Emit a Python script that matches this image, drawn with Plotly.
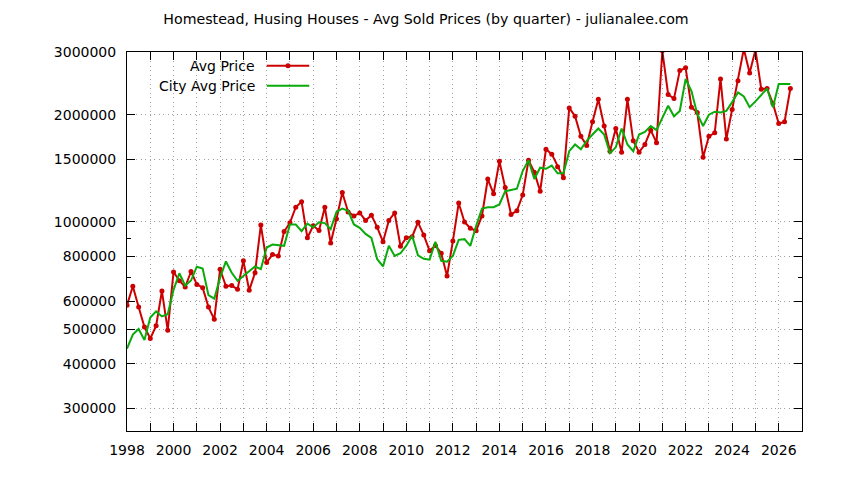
import math
import plotly.graph_objects as go

TITLE = "Homestead, Husing Houses - Avg Sold Prices (by quarter) - julianalee.com"
FIRST_YEAR = 1998

# quarterly values, 1998 Q1 .. 2026 Q3, one row per year
avg_price = [
    584000, 660000, 577000, 507000,
    471000, 511000, 640000, 497000,
    724000, 684000, 657000, 726000,
    668000, 654000, 577000, 533000,
    737000, 660000, 663000, 647000,
    778000, 643000, 720000, 980000,
    770000, 810000, 803000, 940000,
    995000, 1100000, 1140000, 903000,
    976000, 947000, 1100000, 873000,
    1020000, 1210000, 1067000, 1040000,
    1060000, 1010000, 1045000, 966000,
    880000, 1010000, 1060000, 855000,
    903000, 909000, 998000, 919000,
    830000, 859000, 817000, 705000,
    884000, 1130000, 1000000, 960000,
    945000, 1040000, 1320000, 1200000,
    1480000, 1250000, 1050000, 1075000,
    1190000, 1490000, 1380000, 1220000,
    1600000, 1550000, 1430000, 1330000,
    2090000, 1980000, 1740000, 1640000,
    1910000, 2210000, 1860000, 1580000,
    1830000, 1570000, 2210000, 1690000,
    1570000, 1650000, 1810000, 1670000,
    3020000, 2280000, 2220000, 2660000,
    2710000, 2100000, 2030000, 1520000,
    1740000, 1780000, 2520000, 1710000,
    2070000, 2490000, 3060000, 2620000,
    3040000, 2360000, 2370000, 2150000,
    1890000, 1910000, 2370000,
]

city_avg_price = [
    441000, 483000, 501000, 466000,
    539000, 561000, 543000, 551000,
    645000, 718000, 663000, 685000,
    749000, 740000, 623000, 609000,
    698000, 775000, 720000, 684000,
    705000, 727000, 750000, 737000,
    848000, 864000, 860000, 857000,
    984000, 984000, 943000, 990000,
    966000, 998000, 993000, 955000,
    1067000, 1090000, 1075000, 984000,
    963000, 926000, 902000, 786000,
    750000, 858000, 803000, 817000,
    858000, 915000, 806000, 788000,
    784000, 880000, 778000, 774000,
    803000, 891000, 895000, 857000,
    976000, 1090000, 1100000, 1100000,
    1120000, 1220000, 1230000, 1240000,
    1390000, 1490000, 1320000, 1420000,
    1410000, 1440000, 1370000, 1370000,
    1580000, 1650000, 1600000, 1690000,
    1760000, 1830000, 1760000, 1560000,
    1620000, 1830000, 1650000, 1580000,
    1760000, 1790000, 1860000, 1810000,
    1960000, 2120000, 1980000, 2050000,
    2520000, 2330000, 2010000, 1860000,
    2000000, 2040000, 2030000, 2050000,
    2170000, 2310000, 2250000, 2100000,
    2180000, 2270000, 2370000, 2100000,
    2440000, 2440000, 2440000,
]

y_tickvals = [300000, 400000, 500000, 600000, 800000, 1000000, 1500000, 2000000, 3000000]
y_ticktext = [str(v) for v in y_tickvals]
y_minor = [700000, 900000]
x_years = list(range(1998, 2028))
x_labels = [str(y) if y % 2 == 0 else "" for y in x_years]

quarters = [FIRST_YEAR + i / 4 for i in range(len(avg_price))]

RED = "#cc0000"
GREEN = "#0aaa0a"
GRID = "#a0a0a0"
FONT = dict(family="DejaVu Sans", size=14, color="black")

# the page body adds 8px around the figure, so the figure is 8px smaller
W, H = 836, 472

fig = go.Figure()
fig.add_trace(go.Scatter(x=quarters, y=avg_price, mode="lines+markers",
                         name="Avg Price",
                         line=dict(color=RED, width=2),
                         marker=dict(color=RED, size=5)))
fig.add_trace(go.Scatter(x=quarters, y=city_avg_price, mode="lines",
                         name="City Avg Price",
                         line=dict(color=GREEN, width=2)))

axis_common = dict(showline=True, linecolor="black", linewidth=1,
                   mirror="ticks", ticks="inside", ticklen=8,
                   tickcolor="black", showgrid=True, gridcolor=GRID,
                   griddash="1px,3.5px", gridwidth=1, zeroline=False,
                   tickfont=FONT)

fig.update_xaxes(range=[1998, 2027], tickmode="array", tickvals=x_years,
                 ticktext=x_labels, ticklabelstandoff=6, **axis_common)
fig.update_yaxes(type="log", range=[math.log10(259000), math.log10(3000000)],
                 tickmode="array", tickvals=y_tickvals, ticktext=y_ticktext,
                 ticklabelstandoff=7,
                 minor=dict(tickmode="array", tickvals=y_minor, ticks="inside",
                            ticklen=4, tickcolor="black", showgrid=False),
                 **axis_common)

# gnuplot-style key: text right-aligned, sample on its right
key_rows = [("Avg Price", RED, 0.9639, True), ("City Avg Price", GREEN, 0.9111, False)]
for label, color, ky, with_marker in key_rows:
    fig.add_annotation(text=label, xref="paper", yref="paper", x=0.192, y=ky,
                       xanchor="right", yanchor="middle", showarrow=False, font=FONT)
    fig.add_shape(type="line", xref="paper", yref="paper", x0=0.207, x1=0.270,
                  y0=ky, y1=ky, line=dict(color=color, width=2))
    if with_marker:
        fig.add_shape(type="circle", xref="paper", yref="paper",
                      xsizemode="pixel", ysizemode="pixel",
                      xanchor=0.2385, yanchor=ky, x0=-2.5, x1=2.5, y0=-2.5, y1=2.5,
                      fillcolor=color, line=dict(color=color, width=0))

fig.update_layout(
    width=W, height=H,
    margin=dict(l=119, r=42, t=44, b=49),
    paper_bgcolor="white", plot_bgcolor="white",
    font=FONT, showlegend=False,
    title=dict(text=TITLE, x=0.5, xref="container", xanchor="center",
               y=1 - 11 / H, yref="container", yanchor="middle",
               font=dict(family="DejaVu Sans", size=14.2, color="black")),
)

fig.write_html("out.html")
